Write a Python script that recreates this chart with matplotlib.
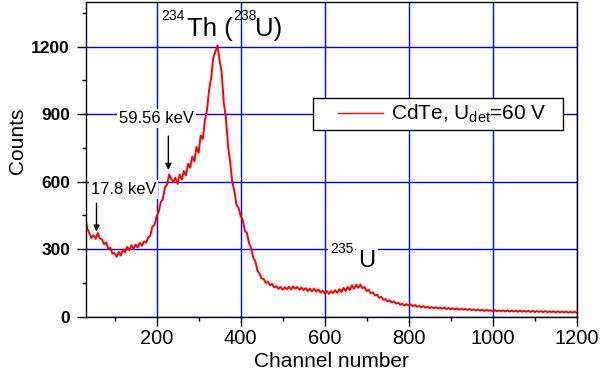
import numpy as np
import matplotlib
matplotlib.use('Agg')
import matplotlib.pyplot as plt
from matplotlib.ticker import MultipleLocator
from matplotlib.legend_handler import HandlerLine2D

plt.rcParams['font.family'] = ['Liberation Sans', 'DejaVu Sans']
plt.rcParams['mathtext.fontset'] = 'custom'
plt.rcParams['mathtext.rm'] = 'Liberation Sans'
plt.rcParams['mathtext.it'] = 'Liberation Sans:italic'
plt.rcParams['mathtext.bf'] = 'Liberation Sans:bold'

# spectrum, one value every 5 channels from 30 to 1200
channels = np.arange(30, 1201, 5)
counts = [
    445, 392, 372, 350, 362, 346, 372, 348, 344, 322,
    330, 302, 306, 280, 284, 266, 288, 272, 298, 286,
    310, 296, 318, 302, 320, 308, 328, 315, 334, 328,
    352, 360, 400, 408, 445, 466, 510, 522, 575, 588,
    632, 612, 598, 618, 590, 632, 610, 648, 628, 680,
    662, 712, 690, 755, 728, 805, 790, 872, 918, 1008,
    1062, 1152, 1178, 1205, 1140, 1085, 950, 885, 760, 690,
    600, 560, 498, 485, 448, 430, 382, 372, 328, 306,
    262, 246, 205, 192, 170, 168, 150, 155, 140, 146,
    130, 136, 124, 132, 120, 131, 122, 133, 121, 135,
    124, 132, 120, 130, 118, 127, 114, 124, 113, 125,
    112, 121, 107, 116, 103, 114, 101, 114, 104, 118,
    106, 122, 110, 128, 114, 132, 118, 140, 124, 142,
    128, 143, 126, 132, 114, 120, 103, 108, 95, 97,
    84, 88, 75, 78, 68, 72, 63, 68, 58, 62,
    53, 58, 50, 56, 49, 55, 46, 52, 44, 48,
    42, 47, 40, 45, 38, 43, 37, 42, 36, 41,
    35, 40, 34, 39, 33, 38, 32, 37, 31, 36,
    31, 35, 30, 34, 29, 33, 28, 32, 27, 31,
    26, 30, 26, 29, 24, 29, 24, 28, 24, 28,
    23, 28, 23, 27, 23, 27, 22, 27, 22, 26,
    22, 26, 21, 26, 21, 25, 21, 25, 20, 25,
    20, 24, 20, 24, 19, 24, 19, 23, 19, 23,
    18, 22, 18, 22, 17,
]
assert len(counts) == len(channels)

# arrows: channel, arrow tip, arrow tail
arrow_ch = [57, 228]
arrow_tip = [378, 652]
arrow_tail = [504, 803]

W, H = 600, 378
fig = plt.figure(figsize=(6, 3.78), dpi=100)
ax = fig.add_axes([86 / W, 1 - 316.7 / H, 490.7 / W, 315 / H])

line, = ax.plot(channels, counts, color='red', lw=1.4, label=r'CdTe, U$_{\mathrm{det}}$=60 V')

ax.set_xlim(32, 1200)
ax.set_ylim(0, 1400)
ax.xaxis.set_major_locator(MultipleLocator(200))
ax.xaxis.set_minor_locator(MultipleLocator(100))
ax.yaxis.set_major_locator(MultipleLocator(300))
ax.yaxis.set_minor_locator(MultipleLocator(150))
ax.set_axisbelow(True)
ax.grid(True, which='major', color='#0000ff', lw=1.0)

ax.tick_params(which='major', direction='out', length=6.5, width=1, color='black')
ax.tick_params(which='minor', direction='out', length=3, width=1, color='black')
ax.tick_params(axis='x', labelsize=14.5, pad=2)
ax.tick_params(axis='y', labelsize=12.5, pad=5)
for lab in ax.get_yticklabels():
    lab.set_fontweight('bold')
for s in ax.spines.values():
    s.set_linewidth(1.0)
    s.set_color('black')

ax.set_xlabel('Channel number', fontsize=15)
ax.set_ylabel('Counts', fontsize=15)
ax.xaxis.set_label_coords(0.5, -0.112)
ax.yaxis.set_label_coords(-0.12, 0.559)

for ch, tip, tail in zip(arrow_ch, arrow_tip, arrow_tail):
    ax.annotate('', xy=(ch, tip), xytext=(ch, tail),
                arrowprops=dict(arrowstyle='-|>', color='black', lw=1,
                                mutation_scale=9, shrinkA=0, shrinkB=0))


def ftext(px, py, s, size, box=False):
    kw = dict(ha='left', va='baseline', fontsize=size, color='black')
    if box:
        kw['bbox'] = dict(facecolor='white', edgecolor='none', pad=1.5)
    fig.text(px / W, 1 - py / H, s, **kw)


ftext(161.7, 20, '234', 10)
ftext(186.7, 35.7, 'Th (', 18.5)
ftext(233, 20, '238', 10)
ftext(255, 35.7, 'U)', 18.5)
ftext(330, 252.7, '235', 10, box=True)
ftext(358.3, 267.3, 'U', 17, box=True)
ftext(119.3, 122.7, '59.56 keV', 12, box=True)
ftext(90.7, 194.3, '17.8 keV', 12, box=True)

leg = ax.legend(handles=[line], loc='center', mode='expand',
                bbox_to_anchor=(313.3 / W, 1 - 132.3 / H, 250 / W, 36.6 / H),
                bbox_transform=fig.transFigure, borderaxespad=0,
                fontsize=15, borderpad=0.25, handlelength=3.1,
                handletextpad=0.37, fancybox=False, framealpha=1,
                edgecolor='black', handler_map={line: HandlerLine2D(xpad=0.94)})
leg.get_frame().set_linewidth(1.0)
leg.get_lines()[0].set_linewidth(1.0)

fig.savefig('out.png', dpi=100)
